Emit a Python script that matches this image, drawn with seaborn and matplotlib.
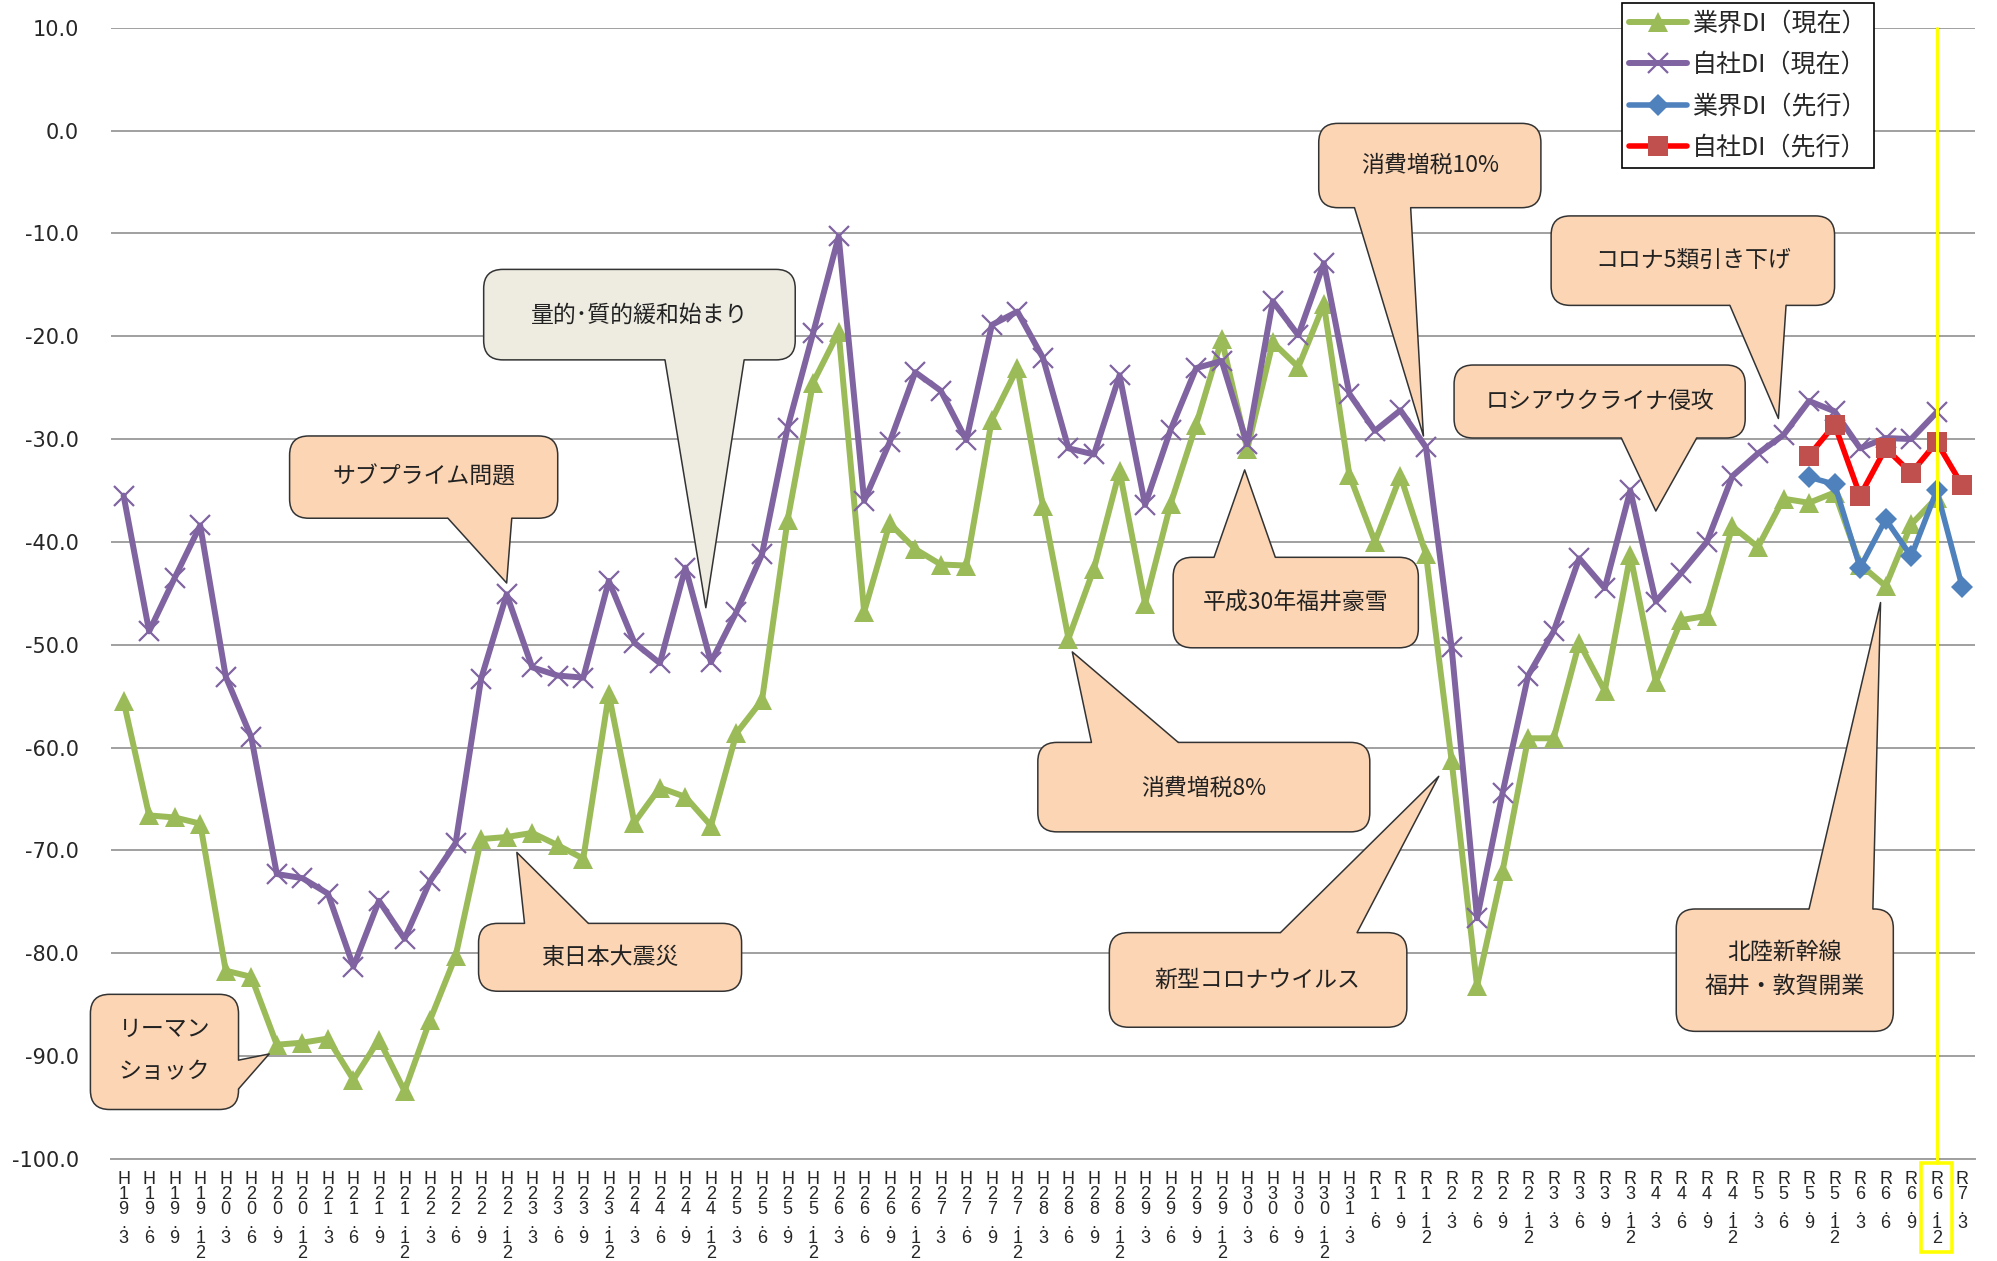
import numpy as np
import pandas as pd
import matplotlib
matplotlib.use("Agg")
import matplotlib.pyplot as plt
import matplotlib.transforms as mtransforms
from matplotlib.patches import FancyBboxPatch, Polygon, Rectangle
import seaborn as sns

# ---------------- data ----------------
periods = [
    "H19.3", "H19.6", "H19.9", "H19.12", "H20.3", "H20.6", "H20.9", "H20.12",
    "H21.3", "H21.6", "H21.9", "H21.12", "H22.3", "H22.6", "H22.9", "H22.12",
    "H23.3", "H23.6", "H23.9", "H23.12", "H24.3", "H24.6", "H24.9", "H24.12",
    "H25.3", "H25.6", "H25.9", "H25.12", "H26.3", "H26.6", "H26.9", "H26.12",
    "H27.3", "H27.6", "H27.9", "H27.12", "H28.3", "H28.6", "H28.9", "H28.12",
    "H29.3", "H29.6", "H29.9", "H29.12", "H30.3", "H30.6", "H30.9", "H30.12",
    "H31.3", "R1.6", "R1.9", "R1.12", "R2.3", "R2.6", "R2.9", "R2.12",
    "R3.3", "R3.6", "R3.9", "R3.12", "R4.3", "R4.6", "R4.9", "R4.12",
    "R5.3", "R5.6", "R5.9", "R5.12", "R6.3", "R6.6", "R6.9", "R6.12", "R7.3",
]

# 業界DI(現在)  H19.3 .. R6.12
gyokai_now = [
    -55.5, -66.6, -66.8, -67.4, -81.7, -82.3, -88.9, -88.7,
    -88.3, -92.3, -88.4, -93.4, -86.5, -80.3, -68.9, -68.7,
    -68.3, -69.5, -70.8, -54.8, -67.3, -63.9, -64.8, -67.6,
    -58.6, -55.4, -37.9, -24.5, -19.6, -46.8, -38.2, -40.7,
    -42.2, -42.3, -28.1, -23.1, -36.5, -49.4, -42.6, -33.1,
    -46.0, -36.3, -28.6, -20.3, -31.0, -20.6, -23.0, -16.9,
    -33.5, -40.0, -33.6, -41.2, -61.2, -83.2, -72.0, -59.1,
    -59.1, -49.8, -54.5, -41.3, -53.6, -47.6, -47.2, -38.5,
    -40.5, -35.8, -36.2, -35.2, -42.2, -44.3, -38.3, -35.7,
]
# 自社DI(現在)  H19.3 .. R6.12
jisha_now = [
    -35.5, -48.7, -43.5, -38.4, -53.1, -59.0, -72.3, -72.7,
    -74.2, -81.3, -74.9, -78.6, -73.0, -69.3, -53.3, -45.1,
    -52.2, -53.0, -53.2, -43.8, -49.8, -51.8, -42.5, -51.7,
    -46.8, -41.2, -28.9, -19.7, -10.3, -36.0, -30.3, -23.5,
    -25.3, -30.1, -18.9, -17.6, -22.1, -30.9, -31.5, -23.8,
    -36.4, -29.1, -23.1, -22.4, -30.5, -16.6, -19.9, -12.9,
    -25.6, -29.2, -27.2, -30.8, -50.2, -76.6, -64.4, -53.0,
    -48.7, -41.6, -44.5, -35.0, -45.8, -43.0, -40.0, -33.6,
    -31.4, -29.6, -26.3, -27.3, -30.9, -29.9, -30.0, -27.4,
]
fwd_periods = ["R5.9", "R5.12", "R6.3", "R6.6", "R6.9", "R6.12", "R7.3"]
gyokai_fwd = [-33.7, -34.4, -42.5, -37.8, -41.4, -35.0, -44.4]   # 業界DI(先行)
jisha_fwd = [-31.6, -28.6, -35.5, -30.9, -33.3, -30.3, -34.5]    # 自社DI(先行)

series_names = ["業界DI（現在）", "自社DI（現在）", "業界DI（先行）", "自社DI（先行）"]

# ---------------- build long table ----------------
rows = []
for name, per, vals in [
    (series_names[0], periods[:len(gyokai_now)], gyokai_now),
    (series_names[1], periods[:len(jisha_now)], jisha_now),
    (series_names[2], fwd_periods, gyokai_fwd),
    (series_names[3], fwd_periods, jisha_fwd),
]:
    for p, v in zip(per, vals):
        rows.append({"series": name, "period": p, "pos": periods.index(p), "value": v})
df = pd.DataFrame(rows)

# ---------------- style ----------------
sns.set_theme(style="white")
plt.rcParams["font.family"] = ["Noto Sans CJK JP", "DejaVu Sans"]

fig = plt.figure(figsize=(19.97, 12.61), dpi=100)
ax = fig.add_axes([0.0555, 0.081, 0.9335, 0.897])

styles = {
    series_names[0]: dict(color="#9BBB59", marker="^", markersize=14, markeredgewidth=0,
                          markeredgecolor="#9BBB59", linewidth=4.3),
    series_names[1]: dict(color="#8064A2", marker="x", markersize=15, markeredgewidth=1.6,
                          markeredgecolor="#8064A2", linewidth=4.3),
    series_names[2]: dict(color="#4F81BD", marker="D", markersize=11, markeredgewidth=0,
                          markeredgecolor="#4F81BD", linewidth=4.0),
    series_names[3]: dict(color="#FF0000", marker="s", markersize=14, markeredgewidth=0,
                          markerfacecolor="#C0504D", markeredgecolor="#C0504D", linewidth=4.0),
}
for name in series_names:
    sub = df[df["series"] == name]
    sns.lineplot(data=sub, x="pos", y="value", ax=ax, label=name, zorder=3, **styles[name])

# axes
ax.set_xlim(-0.5, len(periods) - 0.5)
ax.set_ylim(-100, 10)
ax.set_yticks(np.arange(-100, 11, 10))
ax.set_yticklabels([f"{v:.1f}" for v in np.arange(-100, 11, 10)], fontsize=15, family="DejaVu Sans")
ax.set_xticks(range(len(periods)))
ax.set_xticklabels(["\n".join(list(p)) for p in periods], fontsize=13,
                   family="Liberation Sans", linespacing=0.82, va="top")
ax.tick_params(axis="y", length=0, pad=23)
ax.tick_params(axis="x", length=0, pad=9)
ax.set_xlabel("")
ax.set_ylabel("")
ax.yaxis.grid(True, color="#A0A0A0", linewidth=1.4)
ax.xaxis.grid(False)
for s in ["left", "right", "top"]:
    ax.spines[s].set_visible(False)
ax.spines["bottom"].set_color("#A0A0A0")
ax.spines["bottom"].set_linewidth(1.4)

# ---------------- callouts ----------------
ASP = (1864 / 73) / (1131 / 110)
PEACH = "#FCD5B4"
GREY = "#EEECE1"


def callout(x0, x1, y0, y1, edge, b0, b1, tip, lines, tx, ty, fc=PEACH, ha="center"):
    box = FancyBboxPatch((x0, y0), x1 - x0, y1 - y0,
                         boxstyle="round,pad=0,rounding_size=0.75", mutation_aspect=ASP,
                         fc=fc, ec="#333333", lw=1.1, clip_on=False, zorder=10)
    ax.add_patch(box)
    if edge == "bottom":
        p0, p1 = (b0, y0), (b1, y0)
        n = (0, 0.6)
    elif edge == "top":
        p0, p1 = (b0, y1), (b1, y1)
        n = (0, -0.6)
    else:  # right
        p0, p1 = (x1, b0), (x1, b1)
        n = (-0.25, 0)
    poly = Polygon([(p0[0] + n[0], p0[1] + n[1]), p0, tip, p1, (p1[0] + n[0], p1[1] + n[1])],
                   closed=True, fc=fc, ec="none", clip_on=False, zorder=11)
    ax.add_patch(poly)
    ax.plot([p0[0], tip[0], p1[0]], [p0[1], tip[1], p1[1]], color="#333333", lw=1.1,
            clip_on=False, zorder=12)
    for k, line in enumerate(lines):
        ax.text(tx, ty[k], line, ha=ha, va="center", fontsize=16.5, color="#222222",
                zorder=13, clip_on=False)


callout(-1.3, 4.5, -95.2, -84.0, "right", -90.4, -93.2, (5.7, -89.8),
        ["リーマン", "ショック"], -0.2, [-87.4, -91.5], ha="left")
callout(6.5, 17.0, -37.7, -29.7, "bottom", 12.7, 15.2, (15.0, -44.0),
        ["サブプライム問題"], 11.75, [-33.7])
callout(14.1, 26.3, -22.3, -13.5, "bottom", 21.2, 24.3, (22.8, -46.4),
        ["量的･質的緩和始まり"], 20.2, [-18.0], fc=GREY)
callout(13.9, 24.2, -83.7, -77.1, "top", 15.7, 18.2, (15.4, -70.2),
        ["東日本大震災"], 19.05, [-80.4])
callout(35.8, 48.8, -68.2, -59.5, "top", 37.9, 41.3, (37.15, -50.7),
        ["消費増税8%"], 42.3, [-64.0])
callout(41.1, 50.7, -50.3, -41.5, "top", 42.7, 45.1, (43.9, -33.0),
        ["平成30年福井豪雪"], 45.9, [-46.0])
callout(46.8, 55.5, -7.5, 0.7, "bottom", 48.2, 50.4, (50.9, -29.7),
        ["消費増税10%"], 51.15, [-3.4])
callout(38.6, 50.25, -87.2, -78.0, "top", 45.3, 48.3, (51.5, -62.8),
        ["新型コロナウイルス"], 44.4, [-82.6])
callout(55.9, 67.0, -17.0, -8.3, "bottom", 62.9, 65.1, (64.8, -28.0),
        ["コロナ5類引き下げ"], 61.45, [-12.6])
callout(52.1, 63.5, -29.9, -22.8, "bottom", 58.65, 61.6, (60.0, -37.0),
        ["ロシアウクライナ侵攻"], 57.8, [-26.3])
callout(60.8, 69.3, -87.6, -75.7, "top", 66.0, 68.5, (68.8, -45.9),
        ["北陸新幹線", "福井・敦賀開業"], 65.05, [-79.9, -83.2])

# ---------------- yellow marker for latest period ----------------
trans = mtransforms.blended_transform_factory(ax.transData, ax.transAxes)
xi = periods.index("R6.12")
ax.plot([xi, xi], [-0.0034, 1.0], transform=trans, color="#FFFF00", lw=2.2,
        clip_on=False, zorder=20)
ax.add_patch(Rectangle((xi - 0.6, -0.0822), 1.2, 0.0788, transform=trans, fill=False,
                       ec="#FFFF00", lw=2.6, clip_on=False, zorder=20))

# ---------------- legend ----------------
leg = ax.legend(loc="upper left", bbox_to_anchor=(0.8106, 1.022), borderaxespad=0,
                fontsize=18, frameon=True, fancybox=False, framealpha=1,
                handlelength=2.3, handletextpad=0.2, labelspacing=0.62,
                borderpad=0.3, edgecolor="black")
leg.get_frame().set_linewidth(1.2)
leg.set_zorder(30)

fig.savefig("out.png", dpi=100)
